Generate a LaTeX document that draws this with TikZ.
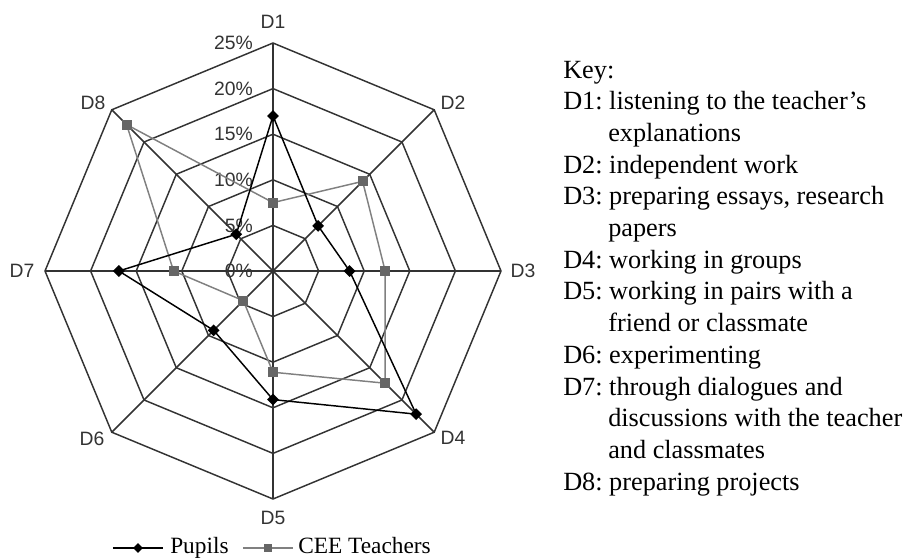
\documentclass[tikz,border=0pt]{standalone}
\usepackage{fontspec}
\setmainfont{Liberation Serif}
\newfontfamily\axisfont{Liberation Sans}
\usetikzlibrary{shapes.geometric,calc}
\definecolor{gridc}{HTML}{333333}
\definecolor{teach}{HTML}{808080}
\definecolor{teachm}{HTML}{666666}
\frenchspacing

\begin{document}
\begin{tikzpicture}[x=0.75pt,y=0.75pt,
  gridline/.style={gridc,line width=1.1pt},
  pupil/.style={black,line width=1.1pt},
  teacher/.style={teach,line width=1.1pt},
  pmark/.style={diamond,fill=black,inner sep=0pt,minimum size=9pt},
  tmark/.style={rectangle,fill=teachm,inner sep=0pt,minimum size=7.5pt},
  axlab/.style={font=\axisfont\fontsize{14.5}{17}\selectfont,text=gridc,inner sep=0pt},
  keyline/.style={anchor=base west,font=\fontsize{19.7}{22}\selectfont,inner sep=0pt},
  legtext/.style={anchor=base west,font=\fontsize{17.5}{20}\selectfont,inner sep=0pt}]
  \useasboundingbox (-273,-287) rectangle (635,271);

  \coordinate (c) at (0,0);
  \foreach \r in {1,...,5}{
    \draw[gridline] (90:{\r*45.6}) -- (45:{\r*45.6}) -- (0:{\r*45.6}) -- (-45:{\r*45.6})
      -- (-90:{\r*45.6}) -- (-135:{\r*45.6}) -- (180:{\r*45.6}) -- (135:{\r*45.6}) -- cycle;
  }
  \foreach \k in {1,...,8}{
    \coordinate (v\k) at ({135-45*\k}:228);
    \draw[gridline] (c) -- (v\k);
  }

  \foreach \k/\lx/\ly in {1/0/249,2/180/168,3/250/0,4/180/-167,5/0/-247,6/-181/-168,7/-251/0,8/-180/168}
    \node[axlab] (d\k) at (\lx,\ly) {D\k};
  \foreach \r/\p in {0/0,1/5,2/10,3/15,4/20,5/25}
    \node[axlab,anchor=east] (pct\r) at (-20,{\r*45.6}) {\p\%};

  \foreach \k/\v in {1/17,2/7,3/8.4,4/22.2,5/14.1,6/9.2,7/16.9,8/5.7}
    \coordinate (p\k) at ({135-45*\k}:{\v*9.12});
  \foreach \k/\v in {1/7.5,2/13.9,3/12.3,4/17.4,5/11.1,6/4.6,7/10.9,8/22.7}
    \coordinate (t\k) at ({135-45*\k}:{\v*9.12});
  \draw[teacher] (t1) -- (t2) -- (t3) -- (t4) -- (t5) -- (t6) -- (t7) -- (t8) -- cycle;
  \draw[pupil] (p1) -- (p2) -- (p3) -- (p4) -- (p5) -- (p6) -- (p7) -- (p8) -- cycle;
  \foreach \k in {1,...,8}{
    \node[tmark] (tm\k) at (t\k) {};
    \node[pmark] (pm\k) at (p\k) {};
  }

  \foreach \i/\dx/\txt in {0/0/Key:,1/0/D1: listening to the teacher's,2/45/explanations,
      3/0/D2: independent work,4/0/{D3: preparing essays, research},5/45/papers,
      6/0/D4: working in groups,7/0/D5: working in pairs with a,8/45/friend or classmate,
      9/0/D6: experimenting,10/0/D7: through dialogues and,
      11/45/discussions with the teacher,12/45/and classmates,13/0/D8: preparing projects}
    \node[keyline] (k\i) at ({290+\dx},{193-31.7*\i}) {\txt};

  \coordinate (la) at (-160,-277);
  \coordinate (lb) at (-110,-277);
  \coordinate (lc) at (-30,-277);
  \coordinate (ld) at (20,-277);
  \draw[pupil,line width=0.9pt] (la) -- (lb);
  \draw[teacher,line width=0.9pt] (lc) -- (ld);
  \node[pmark,minimum size=7.5pt] (lgp) at ($(la)!0.5!(lb)$) {};
  \node[tmark,minimum size=6.5pt] (lgt) at ($(lc)!0.5!(ld)$) {};
  \node[legtext] (lgtp) at (-103,-282) {Pupils};
  \node[legtext] (lgtt) at (25,-282) {CEE Teachers};
\end{tikzpicture}
\end{document}
